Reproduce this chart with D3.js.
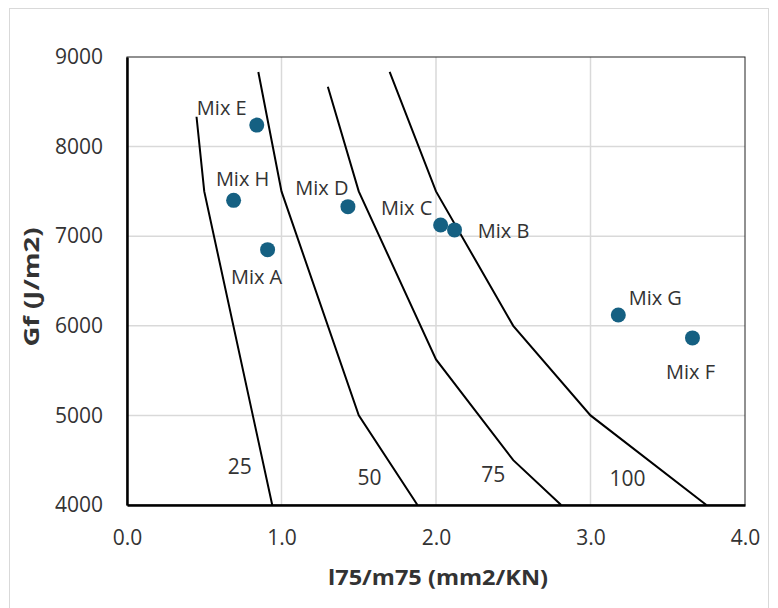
<!DOCTYPE html>
<html>
<head>
<meta charset="utf-8">
<script src="https://cdn.jsdelivr.net/npm/d3@7"></script>
<style>
  body { margin: 0; background: #fff; }
  text { font-family: "Open Sans", "Noto Sans", sans-serif; fill: #333; }
</style>
</head>
<body>
<div id="chart"></div>
<script>
// mixes
var mixNames = ["Mix E", "Mix H", "Mix A", "Mix D", "Mix C", "Mix B", "Mix G", "Mix F"];
var mixX = [0.84, 0.69, 0.91, 1.43, 2.03, 2.12, 3.18, 3.66];
var mixY = [8240, 7400, 6850, 7330, 7125, 7070, 6120, 5865];

// reference curves (label, points)
var curveNames = ["25", "50", "75", "100"];
var curveX = [
  [0.45, 0.50, 0.94],
  [0.85, 1.00, 1.50, 1.88],
  [1.30, 1.50, 2.00, 2.50, 2.81],
  [1.70, 2.00, 2.50, 3.00, 3.75]
];
var curveY = [
  [8333, 7500, 4000],
  [8833, 7500, 5000, 4000],
  [8667, 7500, 5625, 4500, 4000],
  [8833, 7500, 6000, 5000, 4000]
];

var xTicks = [0, 1, 2, 3, 4];
var yTicks = [4000, 5000, 6000, 7000, 8000, 9000];

var width = 778, height = 608;
var margin = {left: 127, right: 33, top: 57, bottom: 103};

var svg = d3.select("#chart").append("svg")
    .attr("width", width)
    .attr("height", height);

// outer frame
svg.append("rect")
    .attr("x", 9.5).attr("y", 8.5)
    .attr("width", 759).attr("height", 610)
    .attr("fill", "none").attr("stroke", "#d9d9d9");

var x = d3.scaleLinear().domain([0, 4]).range([margin.left, width - margin.right]);
var y = d3.scaleLinear().domain([4000, 9000]).range([height - margin.bottom, margin.top]);

// grid
svg.append("g").selectAll("line").data(xTicks.slice(1, -1)).enter().append("line")
    .attr("x1", d => x(d)).attr("x2", d => x(d))
    .attr("y1", y(4000)).attr("y2", y(9000))
    .attr("stroke", "#d9d9d9").attr("stroke-width", 1.5);
svg.append("g").selectAll("line").data(yTicks.slice(1, -1)).enter().append("line")
    .attr("x1", x(0)).attr("x2", x(4))
    .attr("y1", d => y(d)).attr("y2", d => y(d))
    .attr("stroke", "#d9d9d9").attr("stroke-width", 1.5);

// plot border
svg.append("rect")
    .attr("x", x(0)).attr("y", y(9000))
    .attr("width", x(4) - x(0)).attr("height", y(4000) - y(9000))
    .attr("fill", "none").attr("stroke", "#222").attr("stroke-width", 1);

// axes
var xAxis = svg.append("g")
    .attr("transform", "translate(0," + y(4000) + ")")
    .call(d3.axisBottom(x).tickValues(xTicks).tickFormat(d3.format(".1f")).tickSize(0).tickPadding(25));
var yAxis = svg.append("g")
    .attr("transform", "translate(" + x(0) + ",0)")
    .call(d3.axisLeft(y).tickValues(yTicks).tickFormat(d3.format("d")).tickSize(0).tickPadding(24));
[xAxis, yAxis].forEach(function(a) {
  a.select(".domain").attr("stroke", "#000").attr("stroke-width", 2.5);
  a.selectAll("text").style("font-size", "21px").attr("fill", "#333")
    .style("font-family", "'Open Sans', 'Noto Sans', sans-serif");
});

// curves
var line = d3.line().x(d => x(d[0])).y(d => y(d[1]));
curveNames.forEach(function(name, i) {
  var pts = curveX[i].map((v, j) => [v, curveY[i][j]]);
  svg.append("path")
      .attr("d", line(pts))
      .attr("fill", "none").attr("stroke", "#000").attr("stroke-width", 2);
});

// curve labels
var curveLabelX = [0.73, 1.57, 2.37, 3.24];
var curveLabelY = [4346, 4223, 4257, 4212];
svg.append("g").selectAll("text").data(curveNames).enter().append("text")
    .attr("x", (d, i) => x(curveLabelX[i]))
    .attr("y", (d, i) => y(curveLabelY[i]))
    .attr("text-anchor", "middle")
    .style("font-size", "21px")
    .text(d => d);

// points
svg.append("g").selectAll("circle").data(mixNames).enter().append("circle")
    .attr("cx", (d, i) => x(mixX[i]))
    .attr("cy", (d, i) => y(mixY[i]))
    .attr("r", 7.5)
    .attr("fill", "#156082");

// point labels (offsets in px, baseline)
var labelDx = [-35, 9, -11, -26, -34, 49, 37, -2];
var labelDy = [-10, -14, 34, -12, -10, 8, -10, 41];
svg.append("g").selectAll("text").data(mixNames).enter().append("text")
    .attr("x", (d, i) => x(mixX[i]) + labelDx[i])
    .attr("y", (d, i) => y(mixY[i]) + labelDy[i])
    .attr("text-anchor", "middle")
    .style("font-size", "20px")
    .text(d => d);

// axis titles
svg.append("text")
    .attr("x", 438).attr("y", 585)
    .attr("text-anchor", "middle")
    .attr("textLength", 220).attr("lengthAdjust", "spacingAndGlyphs")
    .style("font-size", "21px").style("font-weight", "bold")
    .text("l75/m75 (mm2/KN)");
svg.append("text")
    .attr("transform", "translate(39,287) rotate(-90)")
    .attr("text-anchor", "middle")
    .attr("textLength", 119).attr("lengthAdjust", "spacingAndGlyphs")
    .style("font-size", "21px").style("font-weight", "bold")
    .text("Gf (J/m2)");
</script>
</body>
</html>
